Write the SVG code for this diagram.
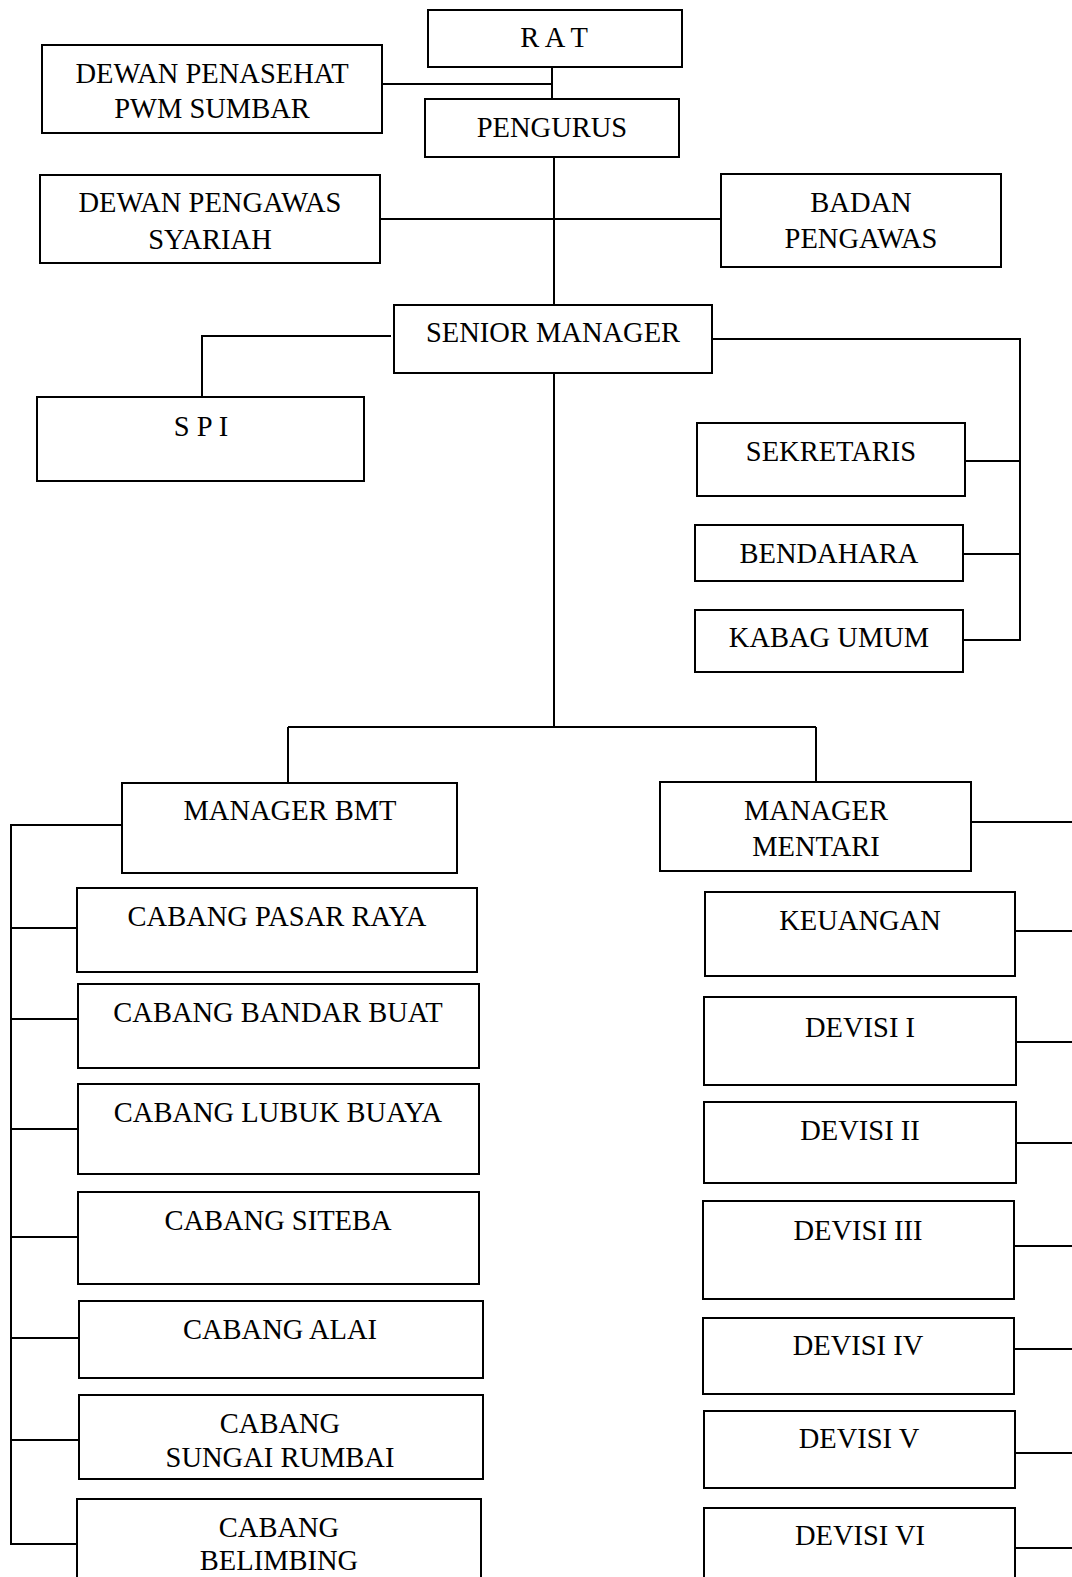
<svg xmlns="http://www.w3.org/2000/svg" width="1072" height="1577" viewBox="0 0 1072 1577">
<style>
rect{fill:#fff;stroke:#000;stroke-width:2}
text{font-family:"Liberation Serif","Times New Roman",serif;font-size:28.5px;fill:#000;text-anchor:middle}
.c path{fill:none;stroke:#000;stroke-width:2}
</style>
<rect x="0" y="0" width="1072" height="1577" style="stroke:none"/>
<g class="c" id="connectors">
<path d="M552,67 V99 M382,84 H552"/>
<path d="M554,157 V305 M380,219 H721"/>
<path d="M391,336 H202 V397"/>
<path d="M713,339 H1020 V641 M965,461 H1020 M963,554 H1020 M963,640 H1020"/>
<path d="M554,373 V727 M288,727 H816 M288,727 V783 M816,727 V782"/>
<path d="M122,825 H11 V1545 M11,928 H77 M11,1019 H78 M11,1129 H78 M11,1237 H78 M11,1338 H79 M11,1440 H79 M11,1544 H77"/>
<path d="M971,822 H1072 M1015,931 H1072 M1016,1042 H1072 M1016,1143 H1072 M1014,1246 H1072 M1014,1349 H1072 M1015,1453 H1072 M1015,1548 H1072"/>
</g>
<g id="rat"><rect x="428" y="10" width="254" height="57"/><text x="554" y="47">R A T</text></g>
<g id="penasehat"><rect x="42" y="45" width="340" height="88"/><text x="212" y="83">DEWAN PENASEHAT</text><text x="212" y="118">PWM SUMBAR</text></g>
<g id="pengurus"><rect x="425" y="99" width="254" height="58"/><text x="552" y="137">PENGURUS</text></g>
<g id="dps"><rect x="40" y="175" width="340" height="88"/><text x="210" y="212">DEWAN PENGAWAS</text><text x="210" y="249">SYARIAH</text></g>
<g id="badan"><rect x="721" y="174" width="280" height="93"/><text x="861" y="212">BADAN</text><text x="861" y="248">PENGAWAS</text></g>
<g id="senior"><rect x="394" y="305" width="318" height="68"/><text x="553" y="342">SENIOR MANAGER</text></g>
<g id="spi"><rect x="37" y="397" width="327" height="84"/><text x="201" y="436">S P I</text></g>
<g id="sekretaris"><rect x="697" y="423" width="268" height="73"/><text x="831" y="461">SEKRETARIS</text></g>
<g id="bendahara"><rect x="695" y="525" width="268" height="56"/><text x="829" y="563">BENDAHARA</text></g>
<g id="kabag"><rect x="695" y="610" width="268" height="62"/><text x="829" y="647">KABAG UMUM</text></g>
<g id="mgr-bmt"><rect x="122" y="783" width="335" height="90"/><text x="290" y="820">MANAGER BMT</text></g>
<g id="mgr-mentari"><rect x="660" y="782" width="311" height="89"/><text x="816" y="820">MANAGER</text><text x="816" y="856">MENTARI</text></g>
<g id="pasar-raya"><rect x="77" y="888" width="400" height="84"/><text x="277" y="926">CABANG PASAR RAYA</text></g>
<g id="bandar-buat"><rect x="78" y="984" width="401" height="84"/><text x="278" y="1022">CABANG BANDAR BUAT</text></g>
<g id="lubuk-buaya"><rect x="78" y="1084" width="401" height="90"/><text x="278" y="1122">CABANG LUBUK BUAYA</text></g>
<g id="siteba"><rect x="78" y="1192" width="401" height="92"/><text x="278" y="1230">CABANG SITEBA</text></g>
<g id="alai"><rect x="79" y="1301" width="404" height="77"/><text x="280" y="1339">CABANG ALAI</text></g>
<g id="sungai-rumbai"><rect x="79" y="1395" width="404" height="84"/><text x="280" y="1433">CABANG</text><text x="280" y="1467">SUNGAI RUMBAI</text></g>
<g id="belimbing"><rect x="77" y="1499" width="404" height="100"/><text x="279" y="1537">CABANG</text><text x="279" y="1570">BELIMBING</text></g>
<g id="keuangan"><rect x="705" y="892" width="310" height="84"/><text x="860" y="930">KEUANGAN</text></g>
<g id="devisi-1"><rect x="704" y="997" width="312" height="88"/><text x="860" y="1037">DEVISI I</text></g>
<g id="devisi-2"><rect x="704" y="1102" width="312" height="81"/><text x="860" y="1140">DEVISI II</text></g>
<g id="devisi-3"><rect x="703" y="1201" width="311" height="98"/><text x="858" y="1240">DEVISI III</text></g>
<g id="devisi-4"><rect x="703" y="1318" width="311" height="76"/><text x="858" y="1355">DEVISI IV</text></g>
<g id="devisi-5"><rect x="704" y="1411" width="311" height="77"/><text x="859" y="1448">DEVISI V</text></g>
<g id="devisi-6"><rect x="704" y="1508" width="311" height="100"/><text x="860" y="1545">DEVISI VI</text></g>
</svg>
